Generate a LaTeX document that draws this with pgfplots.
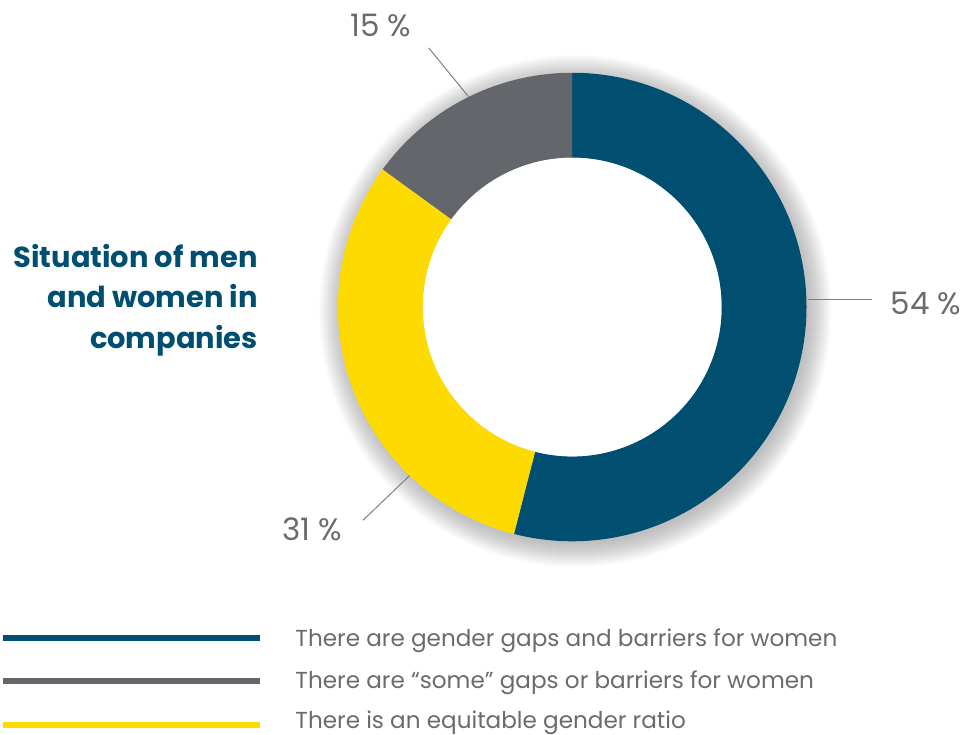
\documentclass[border=0pt]{standalone}
\usepackage{pgfplots}
\pgfplotsset{compat=1.18}
\usepackage{pgfplotstable}
\usepackage{fontspec}
\setmainfont{Poppins}

\definecolor{gapblue}{HTML}{004F71}
\definecolor{somegray}{HTML}{63666A}
\definecolor{eqyellow}{HTML}{FEDB00}
\definecolor{txtgray}{HTML}{6A6B6E}

% shares in percent, clockwise from 12 o'clock
\pgfplotstableread{
share
54
31
15
}\slices

\begin{document}
\begin{tikzpicture}
\pgfplotstablegetelem{0}{share}\of\slices \let\sA\pgfplotsretval
\pgfplotstablegetelem{1}{share}\of\slices \let\sB\pgfplotsretval
\pgfplotstablegetelem{2}{share}\of\slices \let\sC\pgfplotsretval
\pgfmathsetmacro\aA{90}
\pgfmathsetmacro\aB{\aA-3.6*\sA}
\pgfmathsetmacro\aC{\aB-3.6*\sB}
\pgfmathsetmacro\aD{\aC-3.6*\sC}
\begin{axis}[
    x=0.5pt, y=0.5pt,
    xmin=0, xmax=966,
    ymin=0, ymax=736,
    hide axis,
    clip=false,
]
\path (axis cs:0,0) rectangle (axis cs:966,736);

% donut
\begin{scope}[shift={(axis cs:571,428)}, x=0.5pt, y=0.5pt]
    \pgfplotsinvokeforeach{1,2,3,4,5,6,7,8,9,10,11,12,13,14,15,16,17,18,19,20,21,22,23,24}{
        \fill[black, opacity=0.012] (3,-4) circle[radius=233+#1];
    }
    \fill[white] (0,0) circle[radius=150];
    \fill[gapblue] (\aA:235) arc[start angle=\aA, end angle=\aB, radius=235]
        -- (\aB:150) arc[start angle=\aB, end angle=\aA, radius=150] -- cycle;
    \fill[eqyellow] (\aB:235) arc[start angle=\aB, end angle=\aC, radius=235]
        -- (\aC:150) arc[start angle=\aC, end angle=\aB, radius=150] -- cycle;
    \fill[somegray] (\aC:235) arc[start angle=\aC, end angle=\aD, radius=235]
        -- (\aD:150) arc[start angle=\aD, end angle=\aC, radius=150] -- cycle;
\end{scope}

% leader lines and value labels
\draw[gray, line width=0.5pt] (axis cs:427,688) -- (axis cs:467,639);
\draw[gray, line width=0.5pt] (axis cs:807,436) -- (axis cs:872,436);
\draw[gray, line width=0.5pt] (axis cs:361,214) -- (axis cs:408,259);
\begin{scope}[every node/.style={text=txtgray, font=\fontsize{15.5}{18}\selectfont, inner sep=0pt}]
    \node[anchor=base] at (axis cs:379,699) {\sC\ \%};
    \node[anchor=base west] at (axis cs:890,421) {\sA\ \%};
    \node[anchor=base west] at (axis cs:280,194) {\sB\ \%};
\end{scope}

% title
\begin{scope}[every node/.style={text=gapblue, anchor=base east, inner sep=0pt,
        font=\bfseries\fontsize{14.5}{17}\selectfont}]
    \node at (axis cs:256,468) {Situation of men};
    \node at (axis cs:256,428) {and women in};
    \node at (axis cs:256,386) {companies};
\end{scope}

% legend
\draw[gapblue, line width=3pt] (axis cs:0,96) -- (axis cs:258,96);
\draw[somegray, line width=3pt] (axis cs:0,53) -- (axis cs:258,53);
\draw[eqyellow, line width=3pt] (axis cs:0,9) -- (axis cs:258,9);
\begin{scope}[every node/.style={text=txtgray, anchor=base west, inner sep=0pt,
        font=\fontsize{11.6}{14}\selectfont}]
    \node at (axis cs:293,87) {There are gender gaps and barriers for women};
    \node at (axis cs:293,45) {There are “some” gaps or barriers for women};
    \node at (axis cs:293,5) {There is an equitable gender ratio};
\end{scope}
\end{axis}
\end{tikzpicture}
\end{document}
